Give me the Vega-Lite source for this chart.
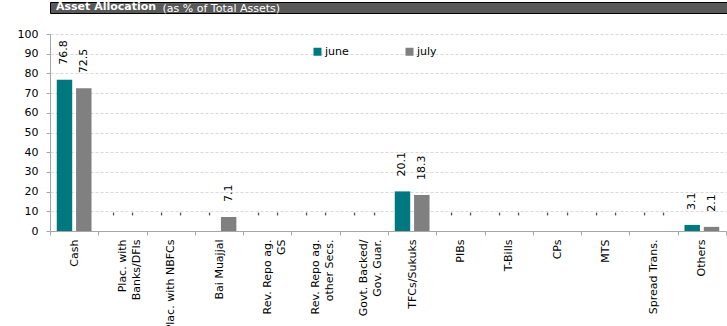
{
  "$schema": "https://vega.github.io/schema/vega-lite/v6.json",
  "padding": {"left": 4, "top": 0, "right": 0, "bottom": 0},
  "autosize": {"type": "pad"},
  "background": "white",
  "spacing": 14,
  "config": {"font": "DejaVu Sans", "view": {"stroke": null}},
  "vconcat": [
    {
      "width": 677,
      "height": 11,
      "view": {"fill": "#595959", "stroke": "#000000", "strokeWidth": 1},
      "title": {"text": "Asset Allocation", "orient": "top", "anchor": "start", "frame": "group", "offset": -10, "dx": 6, "color": "#ffffff", "fontSize": 11, "fontWeight": "bold", "font": "DejaVu Sans"},
      "data": {"values": [{"k": 0}]},
      "mark": {"type": "point", "opacity": 0},
      "encoding": {
        "x": {"field": "k", "type": "quantitative", "axis": {"domain": false, "ticks": false, "labels": false, "grid": false, "title": "(as % of Total Assets)", "titleX": 112, "titleY": -2, "titleAlign": "left", "titleAnchor": null, "titleBaseline": "alphabetic", "titleColor": "#ffffff", "titleFontWeight": "normal", "titleFontSize": 11, "titleFont": "DejaVu Sans"}}
      }
    },
    {
      "width": 676,
      "height": 197,
      "data": {"values": [
        {"cat": "Cash", "series": "june", "value": 76.8},
        {"cat": "Cash", "series": "july", "value": 72.5},
        {"cat": "Plac. with|Banks/DFIs", "series": "june", "value": 0},
        {"cat": "Plac. with|Banks/DFIs", "series": "july", "value": 0},
        {"cat": "Plac. with NBFCs", "series": "june", "value": 0},
        {"cat": "Plac. with NBFCs", "series": "july", "value": 0},
        {"cat": "Bai Muajjal", "series": "june", "value": 0},
        {"cat": "Bai Muajjal", "series": "july", "value": 7.1},
        {"cat": "Rev. Repo ag.|GS", "series": "june", "value": 0},
        {"cat": "Rev. Repo ag.|GS", "series": "july", "value": 0},
        {"cat": "Rev. Repo ag.|other Secs.", "series": "june", "value": 0},
        {"cat": "Rev. Repo ag.|other Secs.", "series": "july", "value": 0},
        {"cat": "Govt. Backed/|Gov. Guar.", "series": "june", "value": 0},
        {"cat": "Govt. Backed/|Gov. Guar.", "series": "july", "value": 0},
        {"cat": "TFCs/Sukuks", "series": "june", "value": 20.1},
        {"cat": "TFCs/Sukuks", "series": "july", "value": 18.3},
        {"cat": "PIBs", "series": "june", "value": 0},
        {"cat": "PIBs", "series": "july", "value": 0},
        {"cat": "T-Bills", "series": "june", "value": 0},
        {"cat": "T-Bills", "series": "july", "value": 0},
        {"cat": "CPs", "series": "june", "value": 0},
        {"cat": "CPs", "series": "july", "value": 0},
        {"cat": "MTS", "series": "june", "value": 0},
        {"cat": "MTS", "series": "july", "value": 0},
        {"cat": "Spread Trans.", "series": "june", "value": 0},
        {"cat": "Spread Trans.", "series": "july", "value": 0},
        {"cat": "Others", "series": "june", "value": 3.1},
        {"cat": "Others", "series": "july", "value": 2.1}
      ]},
      "encoding": {
        "x": {
          "field": "cat", "type": "nominal", "sort": null,
          "scale": {"paddingInner": 0, "paddingOuter": 0},
          "axis": {"title": null, "labelAngle": -90, "labelAlign": "right", "labelBaseline": "middle", "tickBand": "extent", "tickSize": 4, "tickColor": "#a6a6a6", "domainColor": "#a6a6a6", "labelFontSize": 11, "labelColor": "#000000", "labelPadding": 4, "labelLineHeight": 14, "labelExpr": "split(datum.label, '|')", "labelOverlap": false, "labelLimit": 0}
        },
        "xOffset": {"field": "series", "type": "nominal", "sort": ["june", "july"], "scale": {"paddingInner": 0.2, "paddingOuter": 0.35}},
        "y": {
          "field": "value", "type": "quantitative",
          "scale": {"domain": [0, 100]},
          "axis": {"title": null, "values": [0, 10, 20, 30, 40, 50, 60, 70, 80, 90, 100], "grid": true, "gridDash": [3, 2], "gridColor": "#d9d9d9", "domainColor": "#a6a6a6", "tickColor": "#a6a6a6", "tickSize": 4, "labelFontSize": 11, "labelColor": "#000000", "labelPadding": 8, "minExtent": 46}
        }
      },
      "layer": [
        {
          "mark": {"type": "bar"},
          "encoding": {
            "color": {
              "field": "series", "type": "nominal", "sort": ["june", "july"],
              "scale": {"domain": ["june", "july"], "range": ["#00787F", "#808080"]},
              "legend": {"orient": "none", "legendX": 262, "legendY": 44, "direction": "horizontal", "title": null, "symbolType": "square", "symbolSize": 64, "symbolStrokeWidth": 0, "labelFontSize": 11, "labelOffset": 2, "columnPadding": 55, "labelColor": "#000000"}
            }
          }
        },
        {
          "mark": {"type": "text", "angle": 270, "align": "left", "baseline": "middle", "dx": 15, "fontSize": 11, "color": "#000000"},
          "encoding": {
            "text": {"condition": {"test": "datum.value === 0", "value": "-"}, "field": "value", "type": "quantitative", "format": ".1f"}
          }
        }
      ]
    }
  ]
}
